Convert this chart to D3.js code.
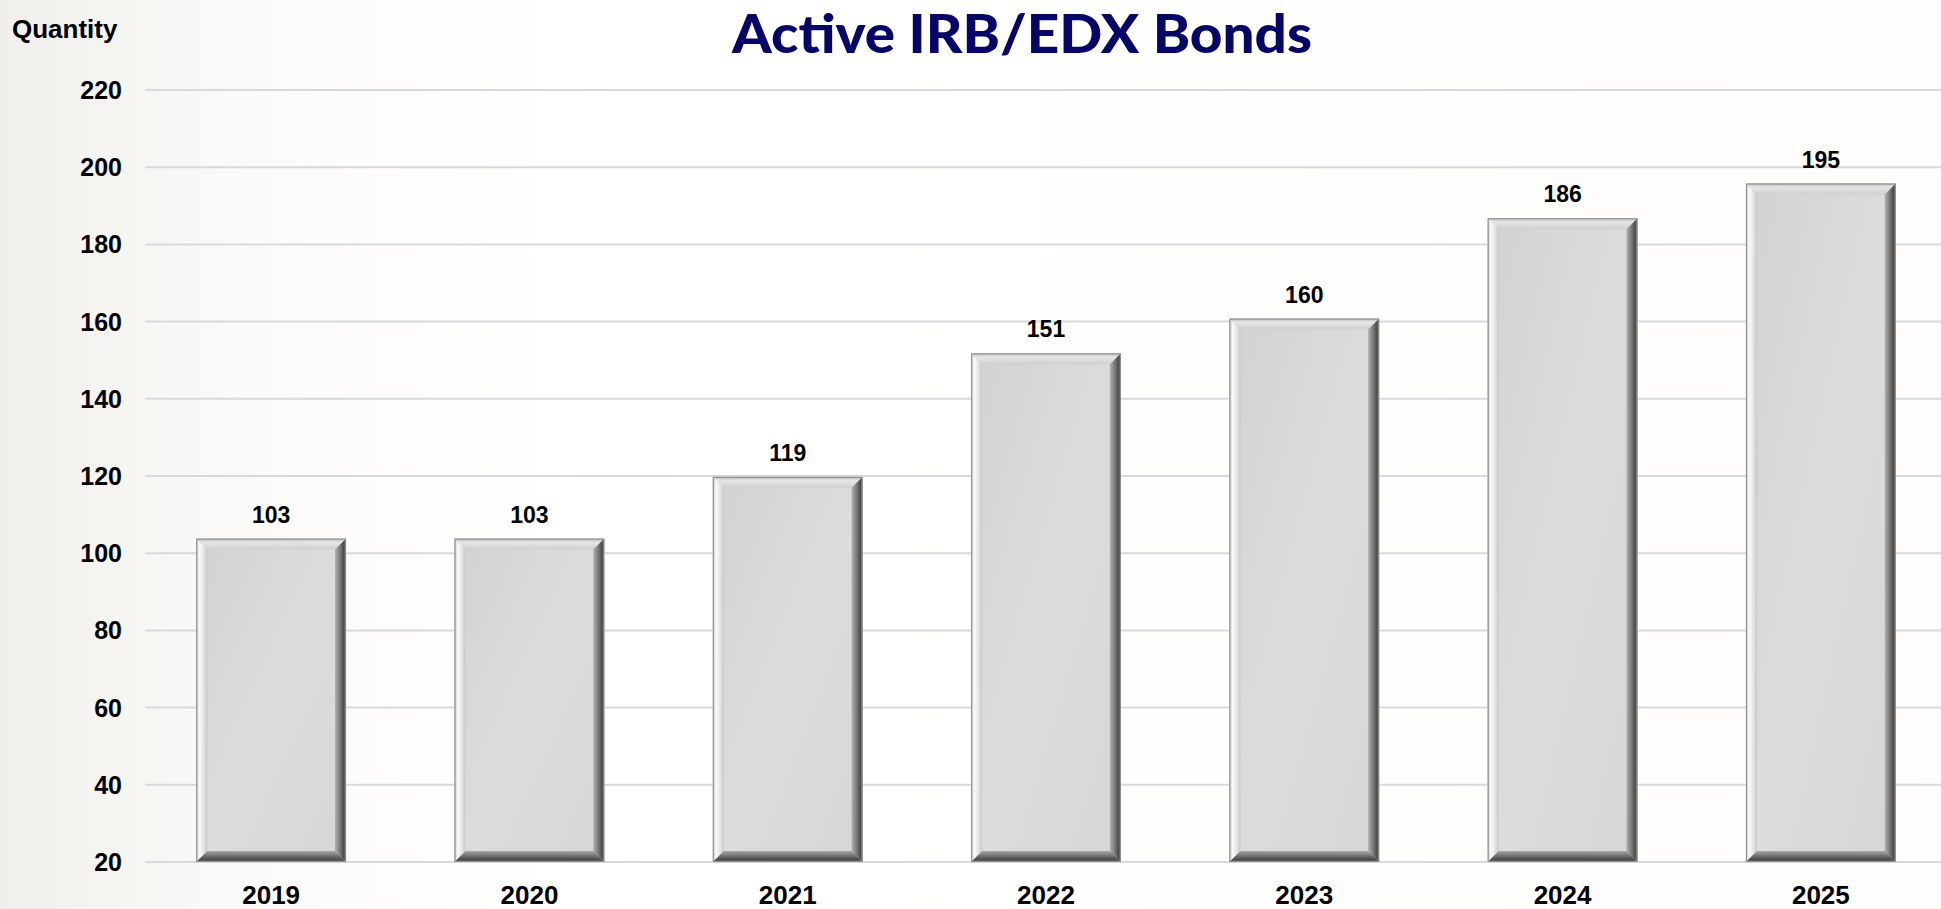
<!DOCTYPE html>
<html>
<head>
<meta charset="utf-8">
<script src="https://cdn.jsdelivr.net/npm/d3@7"></script>
<style>
  html, body { margin: 0; padding: 0; background: #fff; }
  svg { display: block; }
</style>
</head>
<body>
<div id="chart"></div>
<script>
// ---- data ----
var years = ["2019", "2020", "2021", "2022", "2023", "2024", "2025"];
var bonds = [103, 103, 119, 151, 160, 186, 195];
var yTicks = [20, 40, 60, 80, 100, 120, 140, 160, 180, 200, 220];
var chartTitle = "Active IRB/EDX Bonds";
var yTitle = "Quantity";

var W = 1941, H = 909;
var plotLeft = 142, plotRight = 1950, plotTop = 90, plotBottom = 862;

var svg = d3.select("#chart").append("svg")
  .attr("width", W).attr("height", H);

var defs = svg.append("defs");

// background wash, a bit warmer on the left
var bg = defs.append("linearGradient").attr("id", "bg")
  .attr("x1", 0).attr("y1", 0).attr("x2", 1).attr("y2", 0);
bg.append("stop").attr("offset", "0").attr("stop-color", "#f1efec");
bg.append("stop").attr("offset", "0.12").attr("stop-color", "#fbfaf8");
bg.append("stop").attr("offset", "0.3").attr("stop-color", "#ffffff");
bg.append("stop").attr("offset", "1").attr("stop-color", "#fefdfc");
svg.append("rect").attr("width", W).attr("height", H).attr("fill", "url(#bg)");

// gradients for the bevelled bars
function grad(id, x2, y2, stops) {
  var g = defs.append("linearGradient").attr("id", id)
    .attr("x1", 0).attr("y1", 0).attr("x2", x2).attr("y2", y2);
  stops.forEach(function(s) {
    g.append("stop").attr("offset", s[0]).attr("stop-color", s[1]);
  });
}
grad("face", 1, 1, [[0, "#d2d2d2"], [0.5, "#dcdcdc"], [1, "#d6d6d6"]]);
grad("bevTop", 0, 1, [[0, "#bdbdbd"], [0.35, "#e6e6e6"], [1, "#cfcfcf"]]);
grad("bevLeft", 1, 0, [[0, "#c4c4c4"], [0.3, "#fbfbfb"], [0.7, "#e2e2e2"], [1, "#c8c8c8"]]);
grad("bevRight", 1, 0, [[0, "#b0b0b0"], [0.45, "#7a7a7a"], [0.8, "#4a4a4a"], [1, "#8a8a8a"]]);
grad("bevBottom", 0, 1, [[0, "#a8a8a8"], [0.45, "#707070"], [0.8, "#484848"], [1, "#8a8a8a"]]);

var x = d3.scaleBand()
  .domain(years)
  .range([plotLeft, plotRight])
  .paddingInner(0.42)
  .paddingOuter(0.21);

var y = d3.scaleLinear()
  .domain([20, 220])
  .range([plotBottom, plotTop]);

// gridlines
svg.append("g").selectAll("line")
  .data(yTicks)
  .enter().append("line")
    .attr("x1", 145).attr("x2", W)
    .attr("y1", function(d) { return y(d); })
    .attr("y2", function(d) { return y(d); })
    .attr("stroke", "#d9d9d9")
    .attr("stroke-width", 2);

// y axis labels
svg.append("g").selectAll("text")
  .data(yTicks)
  .enter().append("text")
    .attr("x", 122)
    .attr("y", function(d) { return y(d); })
    .attr("dy", "0.36em")
    .attr("text-anchor", "end")
    .style("font-family", "Liberation Sans, Arial, sans-serif")
    .style("font-weight", "bold")
    .style("font-size", "25px")
    .attr("fill", "#000")
    .text(function(d) { return d; });

svg.append("text")
  .attr("x", 12).attr("y", 38)
  .style("font-family", "Liberation Sans, Arial, sans-serif")
  .style("font-weight", "bold")
  .style("font-size", "26px")
  .attr("fill", "#000")
  .text(yTitle);

// title
svg.append("text")
  .attr("x", 1022).attr("y", 53)
  .attr("text-anchor", "middle")
  .attr("textLength", 580)
  .attr("lengthAdjust", "spacingAndGlyphs")
  .style("font-family", "Lato, 'Open Sans', sans-serif")
  .style("font-weight", "900")
  .style("font-size", "53px")
  .attr("fill", "#06066a")
  .text(chartTitle);

// bars with a bevelled frame
var b = 11;
var data = years.map(function(yr, i) { return { year: yr, value: bonds[i] }; });

var bar = svg.append("g").selectAll("g.bar")
  .data(data)
  .enter().append("g")
    .attr("class", "bar");

bar.each(function(d) {
  var g = d3.select(this);
  var x0 = x(d.year), x1 = x0 + x.bandwidth();
  var y0 = y(d.value) - 3, y1 = y(20);
  var pts = function(a) { return a.map(function(p) { return p.join(","); }).join(" "); };

  g.append("rect")
    .attr("x", x0).attr("y", y0)
    .attr("width", x1 - x0).attr("height", y1 - y0)
    .attr("fill", "url(#face)");
  g.append("polygon").attr("fill", "url(#bevTop)")
    .attr("points", pts([[x0, y0], [x1, y0], [x1 - b, y0 + b], [x0 + b, y0 + b]]));
  g.append("polygon").attr("fill", "url(#bevLeft)")
    .attr("points", pts([[x0, y0], [x0 + b, y0 + b], [x0 + b, y1 - b], [x0, y1]]));
  g.append("polygon").attr("fill", "url(#bevRight)")
    .attr("points", pts([[x1, y0], [x1, y1], [x1 - b, y1 - b], [x1 - b, y0 + b]]));
  g.append("polygon").attr("fill", "url(#bevBottom)")
    .attr("points", pts([[x0, y1], [x0 + b, y1 - b], [x1 - b, y1 - b], [x1, y1]]));
  g.append("rect")
    .attr("x", x0 + 0.5).attr("y", y0 + 0.5)
    .attr("width", x1 - x0 - 1).attr("height", y1 - y0 - 1)
    .attr("fill", "none")
    .attr("stroke", "#8c8c8c")
    .attr("stroke-width", 1);
});

// value labels
svg.append("g").selectAll("text")
  .data(data)
  .enter().append("text")
    .attr("x", function(d) { return x(d.year) + x.bandwidth() / 2; })
    .attr("y", function(d) { return y(d.value) - 19; })
    .attr("text-anchor", "middle")
    .style("font-family", "Liberation Sans, Arial, sans-serif")
    .style("font-weight", "bold")
    .style("font-size", "23px")
    .attr("fill", "#000")
    .text(function(d) { return d.value; });

// x axis labels
svg.append("g").selectAll("text")
  .data(years)
  .enter().append("text")
    .attr("x", function(d) { return x(d) + x.bandwidth() / 2; })
    .attr("y", 904)
    .attr("text-anchor", "middle")
    .style("font-family", "Liberation Sans, Arial, sans-serif")
    .style("font-weight", "bold")
    .style("font-size", "26px")
    .attr("fill", "#000")
    .text(function(d) { return d; });
</script>
</body>
</html>
